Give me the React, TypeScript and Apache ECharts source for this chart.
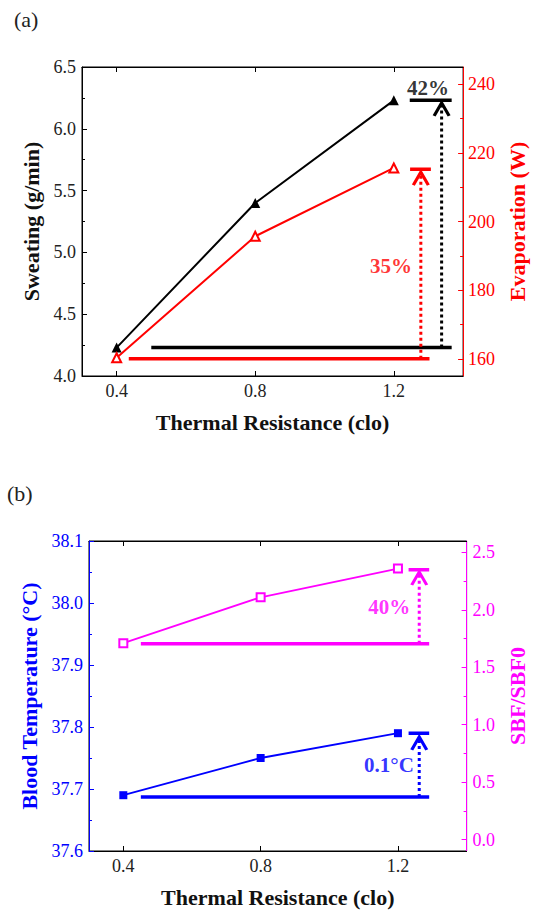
import React, { useEffect, useRef } from "react";
import * as echarts from "echarts";

// ---- data ----
const clo = [0.4, 0.8, 1.2];
const sweating = [4.23, 5.4, 6.23];
const evaporation = [160.3, 195.7, 215.6];
const bloodTemp = [37.69, 37.75, 37.79];
const sbfRatio = [1.71, 2.11, 2.36];

const xTicks = [0.4, 0.8, 1.2];
const evapTicks = [160, 180, 200, 220, 240];
const evapMinor = [170, 190, 210, 230];
const sbfTicks = [0, 0.5, 1.0, 1.5, 2.0, 2.5];
const sbfMinor = [0.25, 0.75, 1.25, 1.75, 2.25];

// annotation values (data space): [baseline, top, arrowTip]
const sweatRef = [4.23, 6.23, 6.21];
const evapRef = [160, 215.2, 214.4];
const bloodRef = [37.687, 37.79, 37.784];
const sbfRef = [1.706, 2.35, 2.33];

// annotation texts
const sweatPct = "42%";
const evapPct = "35%";
const sbfPct = "40%";
const bloodDelta = "0.1°C";

const FONT = "Liberation Serif";
const BLUE = "#0000ff";
const MAG = "#ff00ff";
const RED = "#ff0000";

const CHEVRON = "path://M0,13L7.5,0L15,13";

function hline(x0: number, x1: number, y: number, color: string, xi: number, yi: number) {
  return {
    type: "line", xAxisIndex: xi, yAxisIndex: yi, symbol: "none", silent: true,
    lineStyle: { color, width: 3.5 }, z: 3,
    data: [[x0, y], [x1, y]],
  };
}

function arrow(x: number, y0: number, y1: number, color: string, xi: number, yi: number) {
  return {
    type: "line", xAxisIndex: xi, yAxisIndex: yi, silent: true, z: 3,
    showSymbol: true,
    lineStyle: { color, width: 3, type: "dotted" },
    data: [
      { value: [x, y0], symbol: "none" },
      {
        value: [x, y1], symbol: CHEVRON, symbolSize: [15, 13], symbolOffset: [0, "50%"],
        itemStyle: { color: "rgba(0,0,0,0)", borderColor: color, borderWidth: 3 },
      },
    ],
  };
}

function textMark(x: number, y: number, text: string, color: string, xi: number, yi: number) {
  return {
    type: "scatter", xAxisIndex: xi, yAxisIndex: yi, silent: true, symbolSize: 1,
    itemStyle: { color: "rgba(0,0,0,0)" },
    label: {
      show: true, position: "inside", formatter: text, color,
      fontFamily: FONT, fontSize: 21, fontWeight: "bold",
    },
    data: [[x, y]],
  };
}

const labelStyle = (color: string) => ({ color, fontFamily: FONT, fontSize: 18 });
const nameStyle = (color: string) => ({ fontFamily: FONT, fontSize: 22, fontWeight: "bold", color });

function xAxes(grid: number) {
  const base = {
    type: "value", gridIndex: grid, min: 0.3, max: 1.4, show: true,
    splitLine: { show: false },
    axisLine: { show: true, onZero: false, lineStyle: { color: "#000", width: 1 } },
    axisTick: { show: true, inside: true, length: 5, customValues: xTicks, lineStyle: { color: "#000" } },
  };
  return [
    {
      ...base, position: "bottom",
      axisLabel: {
        show: true, customValues: xTicks, margin: 6, ...labelStyle("#222"),
        formatter: (v: number) => v.toFixed(1),
      },
      name: "Thermal Resistance (clo)",
      nameLocation: "middle", nameGap: 35,
      nameTextStyle: nameStyle("#111"),
    },
    {
      ...base, position: "top",
      axisLabel: { show: true, customValues: xTicks, formatter: () => "" },
    },
  ];
}

export default function App() {
  const ref = useRef<HTMLDivElement>(null);
  useEffect(() => {
    if (!ref.current) return;
    const chart = echarts.init(ref.current, null, { renderer: "svg" });
    const cloPts = (ys: number[]) => clo.map((c, i) => [c, ys[i]]);
    const option: any = {
      animation: false,
      backgroundColor: "#fff",
      textStyle: { fontFamily: FONT },
      grid: [
        { left: 82, top: 67, width: 385, height: 309, show: true, borderColor: "#000", borderWidth: 1, backgroundColor: "transparent" },
        { left: 89, top: 541, width: 385, height: 310, show: true, borderColor: "#000", borderWidth: 1, backgroundColor: "transparent" },
      ],
      xAxis: [...xAxes(0), ...xAxes(1)],
      yAxis: [
        {
          type: "value", gridIndex: 0, position: "left", min: 4, max: 6.5, interval: 0.5,
          splitLine: { show: false },
          axisLine: { show: true, onZero: false, lineStyle: { color: "#000", width: 1 } },
          axisTick: { show: true, inside: true, length: 5 },
          minorTick: { show: true, splitNumber: 2, length: 3, lineStyle: { color: "#000" } },
          axisLabel: { margin: 6, ...labelStyle("#222"), formatter: (v: number) => v.toFixed(1) },
          name: "Sweating (g/min)", nameLocation: "middle", nameGap: 37,
          nameTextStyle: nameStyle("#111"),
        },
        {
          type: "value", gridIndex: 0, position: "right", min: 155, max: 245,
          splitLine: { show: false },
          axisLine: { show: true, onZero: false, lineStyle: { color: RED, width: 1 } },
          axisTick: { show: true, inside: true, length: 5, customValues: evapTicks, lineStyle: { color: RED } },
          axisLabel: { customValues: evapTicks, margin: 5, ...labelStyle(RED), formatter: (v: number) => String(v) },
          name: "Evaporation (W)", nameLocation: "middle", nameGap: 38,
          nameTextStyle: nameStyle(RED),
        },
        {
          type: "value", gridIndex: 0, position: "right", min: 155, max: 245,
          splitLine: { show: false }, axisLine: { show: false, onZero: false },
          axisTick: { show: true, inside: true, length: 3, customValues: evapMinor, lineStyle: { color: RED } },
          axisLabel: { show: false },
        },
        {
          type: "value", gridIndex: 1, position: "left", min: 37.6, max: 38.1, interval: 0.1,
          splitLine: { show: false },
          axisLine: { show: true, onZero: false, lineStyle: { color: BLUE, width: 1 } },
          axisTick: { show: true, inside: true, length: 5, lineStyle: { color: BLUE } },
          minorTick: { show: true, splitNumber: 2, length: 3, lineStyle: { color: BLUE } },
          axisLabel: { margin: 6, ...labelStyle(BLUE), formatter: (v: number) => v.toFixed(1) },
          name: "Blood Temperature (°C)", nameLocation: "middle", nameGap: 45,
          nameTextStyle: nameStyle(BLUE),
        },
        {
          type: "value", gridIndex: 1, position: "right", min: -0.1, max: 2.6,
          splitLine: { show: false },
          axisLine: { show: true, onZero: false, lineStyle: { color: MAG, width: 1 } },
          axisTick: { show: true, inside: true, length: 5, customValues: sbfTicks, lineStyle: { color: MAG } },
          axisLabel: { customValues: sbfTicks, margin: 6, ...labelStyle(MAG), formatter: (v: number) => v.toFixed(1) },
          name: "SBF/SBF0", nameLocation: "middle", nameGap: 34,
          nameTextStyle: nameStyle(MAG),
        },
        {
          type: "value", gridIndex: 1, position: "right", min: -0.1, max: 2.6,
          splitLine: { show: false }, axisLine: { show: false, onZero: false },
          axisTick: { show: true, inside: true, length: 3, customValues: sbfMinor, lineStyle: { color: MAG } },
          axisLabel: { show: false },
        },
      ],
      graphic: [
        { type: "text", left: 14, top: 8, style: { text: "(a)", fontFamily: FONT, fontSize: 22, fill: "#222" } },
        { type: "text", left: 7, top: 482, style: { text: "(b)", fontFamily: FONT, fontSize: 22, fill: "#222" } },
      ],
      series: [
        // panel (a)
        hline(0.5, 1.367, sweatRef[0], "#000", 0, 0),
        hline(1.246, 1.367, sweatRef[1], "#000", 0, 0),
        arrow(1.338, sweatRef[0], sweatRef[2], "#000", 0, 0),
        hline(0.435, 1.303, evapRef[0], RED, 0, 1),
        hline(1.247, 1.307, evapRef[1], RED, 0, 1),
        arrow(1.278, evapRef[0], evapRef[2], RED, 0, 1),
        {
          name: "Sweating", type: "line", xAxisIndex: 0, yAxisIndex: 0, z: 4,
          symbol: "triangle", symbolSize: 10,
          itemStyle: { color: "#000" }, lineStyle: { color: "#000", width: 2 },
          data: cloPts(sweating),
        },
        {
          name: "Evaporation", type: "line", xAxisIndex: 0, yAxisIndex: 1, z: 4,
          symbol: "emptyTriangle", symbolSize: 9,
          itemStyle: { color: RED, borderColor: RED, borderWidth: 1.2 }, lineStyle: { color: RED, width: 2 },
          data: cloPts(evaporation),
        },
        textMark(1.299, 6.33, sweatPct, "#000", 0, 0),
        textMark(1.192, 4.893, evapPct, RED, 0, 0),
        // panel (b)
        hline(0.451, 1.291, sbfRef[0], MAG, 2, 4),
        hline(1.231, 1.291, sbfRef[1], MAG, 2, 4),
        arrow(1.262, sbfRef[0], sbfRef[2], MAG, 2, 4),
        hline(0.451, 1.291, bloodRef[0], BLUE, 2, 3),
        hline(1.231, 1.291, bloodRef[1], BLUE, 2, 3),
        arrow(1.262, bloodRef[0], bloodRef[2], BLUE, 2, 3),
        {
          name: "SBF/SBF0", type: "line", xAxisIndex: 2, yAxisIndex: 4, z: 4,
          symbol: "emptyRect", symbolSize: 8,
          itemStyle: { color: MAG, borderColor: MAG, borderWidth: 1.2 }, lineStyle: { color: MAG, width: 1.8 },
          data: cloPts(sbfRatio),
        },
        {
          name: "Blood Temperature", type: "line", xAxisIndex: 2, yAxisIndex: 3, z: 4,
          symbol: "rect", symbolSize: 8,
          itemStyle: { color: BLUE }, lineStyle: { color: BLUE, width: 1.8 },
          data: cloPts(bloodTemp),
        },
        textMark(1.175, 37.993, sbfPct, MAG, 2, 3),
        textMark(1.174, 37.738, bloodDelta, BLUE, 2, 3),
      ],
    };
    chart.setOption(option);
    return () => chart.dispose();
  }, []);
  return (
    <div
      ref={ref}
      style={{ position: "fixed", left: 0, top: 0, width: 536, height: 912, background: "#fff" }}
    />
  );
}
